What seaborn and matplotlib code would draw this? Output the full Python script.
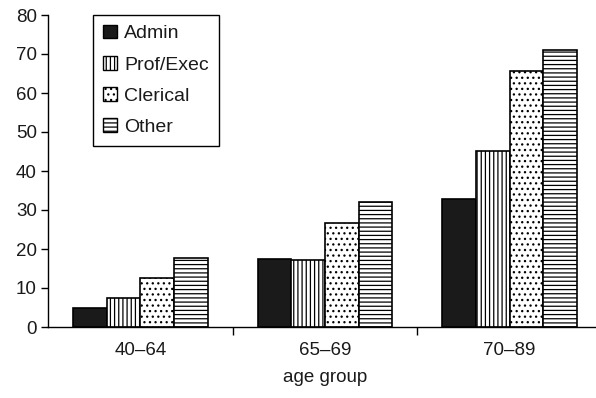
import matplotlib
matplotlib.use("Agg")
import matplotlib.pyplot as plt
from matplotlib.patches import Patch
import pandas as pd
import seaborn as sns

age_groups = ["40\u201364", "65\u201369", "70\u201389"]
occupations = ["Admin", "Prof/Exec", "Clerical", "Other"]
admin = [4.9, 17.4, 32.8]
prof_exec = [7.4, 17.3, 45.0]
clerical = [12.5, 26.7, 65.6]
other = [17.6, 32.1, 71.0]
y_ticks = [0, 10, 20, 30, 40, 50, 60, 70, 80]

series = [admin, prof_exec, clerical, other]
df = pd.DataFrame(
    [(g, occ, v) for occ, vals in zip(occupations, series) for g, v in zip(age_groups, vals)],
    columns=["age group", "occupation", "value"],
)

sns.set_style("white")
plt.rcParams["font.family"] = ["Liberation Sans", "DejaVu Sans"]
plt.rcParams["hatch.linewidth"] = 0.9
plt.rcParams["hatch.color"] = "black"

fills = ["#1a1a1a", "white", "white", "white"]
hatches = ["", "||||", "...", "----"]

fig = plt.figure(figsize=(5.96, 3.98), dpi=100)
ax = fig.add_axes([48 / 596, 71 / 398, 554 / 596, 312 / 398])

sns.barplot(
    data=df, x="age group", y="value", hue="occupation",
    order=age_groups, hue_order=occupations,
    palette=fills, width=0.73, edgecolor="black", linewidth=1.2,
    legend=False, ax=ax,
)

for cont, fill, hatch in zip(ax.containers, fills, hatches):
    for bar in cont:
        bar.set_facecolor(fill)
        bar.set_hatch(hatch)
        bar.set_edgecolor("black")

ax.set_xlim(-0.5, 2.5)
ax.set_ylim(0, 80)
ax.set_yticks(y_ticks)
ax.set_xticks(range(len(age_groups)), age_groups)
ax.set_xticks([0.5, 1.5], minor=True)

for side in ("top", "right"):
    ax.spines[side].set_visible(False)
for side in ("left", "bottom"):
    ax.spines[side].set_color("black")
    ax.spines[side].set_linewidth(1.0)

ax.tick_params(axis="y", which="major", direction="out", length=5, width=1,
               color="black", labelsize=13.5, labelcolor="#1a1a1a", pad=3, left=True)
ax.tick_params(axis="x", which="major", length=0, labelsize=13.5,
               labelcolor="#1a1a1a", pad=11)
ax.tick_params(axis="x", which="minor", direction="out", length=6, width=1,
               color="black", bottom=True)

ax.set_xlabel("age group", fontsize=13.5, color="#1a1a1a", labelpad=7)
ax.set_ylabel("")

handles = [Patch(facecolor=f, edgecolor="black", hatch=h, linewidth=1.0)
           for f, h in zip(fills, hatches)]
leg = ax.legend(handles, occupations, loc="upper left", bbox_to_anchor=(0.081, 1.0),
                borderaxespad=0, fontsize=14, frameon=True, fancybox=False,
                framealpha=1, edgecolor="black", handlelength=0.72,
                handleheight=0.7, handletextpad=0.4, labelspacing=0.7,
                borderpad=0.5)
leg.get_frame().set_linewidth(1.0)
for t in leg.get_texts():
    t.set_color("#1a1a1a")

fig.savefig("out.png", dpi=100)
